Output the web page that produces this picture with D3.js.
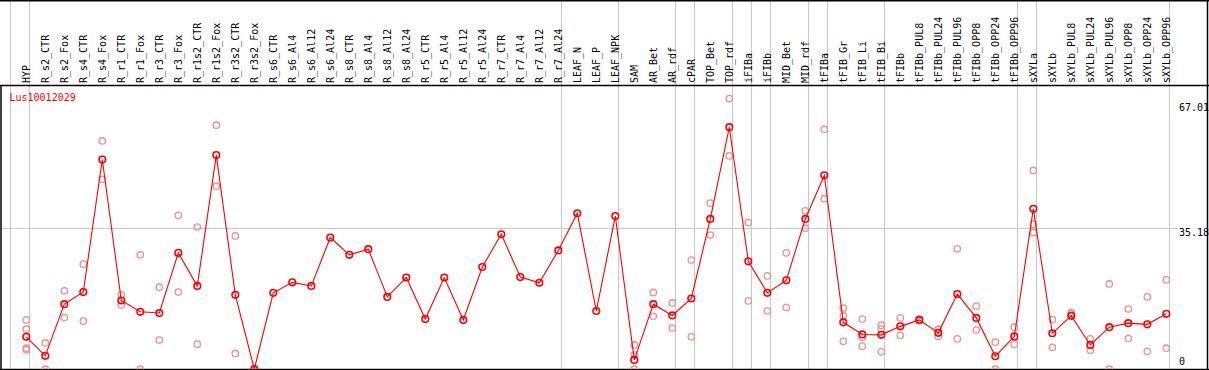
<!DOCTYPE html>
<html>
<head>
<meta charset="utf-8">
<script src="https://cdn.jsdelivr.net/npm/d3@7"></script>
<style>
  body { margin: 0; background: #fff; }
  svg { display: block; }
</style>
</head>
<body>
<svg id="chart"></svg>
<script>
// categories (x axis, rotated labels in the header)
const categories = ["HYP", "R_s2_CTR", "R_s2_Fox", "R_s4_CTR", "R_s4_Fox", "R_r1_CTR", "R_r1_Fox",
    "R_r3_CTR", "R_r3_Fox", "R_r1s2_CTR", "R_r1s2_Fox", "R_r3s2_CTR", "R_r3s2_Fox",
    "R_s6_CTR", "R_s6_Al4", "R_s6_Al12", "R_s6_Al24", "R_s8_CTR", "R_s8_Al4", "R_s8_Al12", "R_s8_Al24",
    "R_r5_CTR", "R_r5_Al4", "R_r5_Al12", "R_r5_Al24", "R_r7_CTR", "R_r7_Al4", "R_r7_Al12", "R_r7_Al24",
    "LEAF_N", "LEAF_P", "LEAF_NPK", "SAM", "AR_Bet", "AR_rdf", "cPAR", "TOP_Bet", "TOP_rdf",
    "iFIBa", "iFIBb", "MID_Bet", "MID_rdf", "tFIBa", "tFIB_Gr", "tFIB_Li", "tFIB_Bi", "tFIBb",
    "tFIBb_PUL8", "tFIBb_PUL24", "tFIBb_PUL96", "tFIBb_OPP8", "tFIBb_OPP24", "tFIBb_OPP96",
    "sXYLa", "sXYLb", "sXYLb_PUL8", "sXYLb_PUL24", "sXYLb_PUL96", "sXYLb_OPP8", "sXYLb_OPP24", "sXYLb_OPP96"];

// mean expression (red line)
const means = [8.2, 3.5, 16.3, 19.3, 52.1, 17.2, 14.4, 14.1, 29.0, 20.8, 53.2, 18.6, 0.2,
    19.1, 21.7, 20.8, 32.8, 28.5, 29.9, 18.1, 22.9, 12.6, 22.9, 12.4, 25.5, 33.6, 23.0, 21.6, 29.6,
    38.8, 14.6, 38.1, 2.5, 16.3, 13.5, 17.7, 37.4, 60.1, 26.9, 19.1, 22.2, 37.4, 48.2,
    11.8, 8.8, 8.7, 10.8, 12.4, 9.2, 18.8, 12.9, 3.4, 8.3, 39.9, 9.1, 13.4, 6.2, 10.6, 11.6, 11.3, 13.9];

// replicate values (pale circles)
const replicates = [
    [12.4, 10.1, 5.4, 5.0], [6.7, 0.2], [19.6, 13.0], [26.2, 12.1], [56.7, 47.2], [18.6, 16.1],
    [28.5, 0.2], [20.5, 7.4], [38.3, 19.3], [35.4, 6.4], [60.6, 45.5], [33.2, 4.1], [],
    [], [], [], [], [], [], [], [], [], [], [], [], [], [], [], [],
    [], [], [], [6.2, 3.7, 0.2], [19.2, 13.3], [16.6, 10.4], [27.2, 8.2], [41.3, 33.4], [67.2, 53.0],
    [36.5, 17.1], [23.3, 14.6], [29.0, 15.5], [39.4, 35.1], [59.6, 42.4],
    [15.3, 13.4, 7.1], [12.6, 8.1, 5.9], [11.1, 10.2, 4.5], [12.9, 8.6], [12.6, 12.2], [10.1, 8.3],
    [30.0, 7.7], [15.8, 9.9], [6.9, 0.2], [10.6, 6.4], [49.4, 36.1, 34.0], [12.5, 5.6], [14.2, 13.9],
    [7.7, 4.9], [21.3, 0.2], [15.1, 7.8], [18.1, 4.6], [22.3, 5.4]];

// first category of each group (grey separators)
const groupStarts = ["HYP", "R_s2_CTR", "LEAF_N", "SAM", "cPAR", "TOP_Bet", "iFIBa", "iFIBb",
    "MID_Bet", "tFIBa", "tFIB_Gr", "tFIBb", "sXYLa", "sXYLb"];

const yTicks = [0, 35.18, 67.01];
const geneName = "Lus10012029";

const width = 1209, height = 370;
const headerBottom = 85.5, plotBottom = 369.5;
const font = "'DejaVu Sans Mono', monospace";

const svg = d3.select("#chart")
    .attr("width", width)
    .attr("height", height);

const x = d3.scaleBand()
    .domain(categories)
    .range([11, 11 + categories.length * 19])
    .padding(0);
const px = d => x(d) + 15.3; // point position inside the column

const y = d3.scaleLinear()
    .domain([0, 67.01])
    .range([370, 99.3]);

//grid-----------------------------------------------------------------------------------
const grid = svg.append("g").attr("stroke", "#c8c8c8").attr("stroke-width", 1);

groupStarts.forEach(c => {
    const gx = Math.round(x(c)) - 0.5;
    grid.append("line").attr("x1", gx).attr("x2", gx).attr("y1", 0).attr("y2", plotBottom);
});
const xEnd = Math.round(x.range()[1]) - 0.5;
grid.append("line").attr("x1", xEnd).attr("x2", xEnd).attr("y1", 0).attr("y2", plotBottom);

grid.append("line")
    .attr("x1", 1).attr("x2", 1178)
    .attr("y1", Math.round(y(35.18)) + 0.5).attr("y2", Math.round(y(35.18)) + 0.5);

//header labels-----------------------------------------------------------------------------------
svg.append("g")
    .selectAll("text")
    .data(categories)
    .join("text")
    .attr("transform", d => "translate(" + (px(d) + 3.8) + ",83) rotate(-90)")
    .attr("font-family", font)
    .attr("font-size", "10px")
    .attr("fill", "#000")
    .text(d => d);

//frame
const frame = svg.append("g").attr("stroke", "#000").attr("stroke-width", 1.5);
frame.append("line").attr("x1", 0).attr("x2", width).attr("y1", 0.75).attr("y2", 0.75);
frame.append("line").attr("x1", 0).attr("x2", width).attr("y1", headerBottom).attr("y2", headerBottom);
frame.append("line").attr("x1", 0).attr("x2", width).attr("y1", plotBottom).attr("y2", plotBottom);
frame.append("line").attr("x1", 1).attr("x2", 1).attr("y1", headerBottom).attr("y2", plotBottom);
frame.append("line").attr("x1", 1207.5).attr("x2", 1207.5).attr("y1", 0).attr("y2", plotBottom);

//y labels
svg.append("g")
    .selectAll("text")
    .data(yTicks)
    .join("text")
    .attr("x", 1179)
    .attr("y", d => Math.min(Math.max(y(d) + 8.5, 111), 365))
    .attr("font-family", font)
    .attr("font-size", "10px")
    .attr("fill", "#000")
    .text(d => d === 0 ? "0" : d.toFixed(2));

svg.append("text")
    .attr("x", 9.5)
    .attr("y", 101)
    .attr("font-family", font)
    .attr("font-size", "10px")
    .attr("fill", "#ff0000")
    .text(geneName);

//data-----------------------------------------------------------------------------------
svg.append("clipPath").attr("id", "plotClip")
    .append("rect").attr("x", 2).attr("y", 87).attr("width", 1205).attr("height", plotBottom - 87);

const plot = svg.append("g").attr("clip-path", "url(#plotClip)");

const reps = [];
replicates.forEach((vals, i) => vals.forEach(v => reps.push({ c: categories[i], v: v })));

plot.append("g")
    .selectAll("circle")
    .data(reps)
    .join("circle")
    .attr("cx", d => px(d.c))
    .attr("cy", d => y(d.v))
    .attr("r", 3.2)
    .attr("fill", "none")
    .attr("stroke", "#ee8e8e")
    .attr("stroke-width", 1.3);

const line = d3.line()
    .x((d, i) => px(categories[i]))
    .y(d => y(d));

plot.append("path")
    .datum(means)
    .attr("d", line)
    .attr("fill", "none")
    .attr("stroke", "#ff0000")
    .attr("stroke-width", 1.1);

plot.append("g")
    .selectAll("circle")
    .data(means)
    .join("circle")
    .attr("cx", (d, i) => px(categories[i]))
    .attr("cy", d => y(d))
    .attr("r", 3.3)
    .attr("fill", "none")
    .attr("stroke", "#ff0000")
    .attr("stroke-width", 1.6);
</script>
</body>
</html>
